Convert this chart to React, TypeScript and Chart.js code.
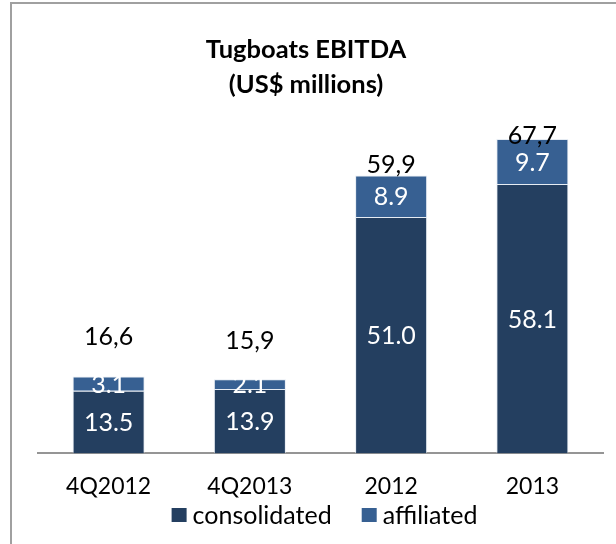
import React, { useEffect, useRef } from "react";
import { Chart, registerables } from "chart.js";

Chart.register(...registerables);

const categories = ["4Q2012", "4Q2013", "2012", "2013"];
const consolidated = [13.5, 13.9, 51.0, 58.1];
const affiliated = [3.1, 2.1, 8.9, 9.7];
const totals = [16.6, 15.9, 59.9, 67.7];
const seriesNames = ["consolidated", "affiliated"];
const titleLines = ["Tugboats EBITDA", "(US$ millions)"];

const FONT = "Lato, Carlito, Calibri, 'Open Sans', sans-serif";
const DARK = "#243F60";
const LIGHT = "#376092";

const labelsPlugin = {
  id: "barLabels",
  afterDatasetsDraw(chart: any, _args: any, opts: any) {
    const ctx = chart.ctx;
    ctx.save();
    ctx.textAlign = "center";
    ctx.textBaseline = "middle";
    ctx.font = `${opts.size}px ${FONT}`;
    chart.data.datasets.forEach((ds: any, di: number) => {
      const meta = chart.getDatasetMeta(di);
      meta.data.forEach((bar: any, i: number) => {
        const v = ds.data[i];
        ctx.fillStyle = "#ffffff";
        ctx.fillText(v.toFixed(1), bar.x, (bar.y + bar.base) / 2 + opts.dy);
      });
    });
    const topMeta = chart.getDatasetMeta(chart.data.datasets.length - 1);
    ctx.font = `${opts.totalSize}px ${FONT}`;
    ctx.fillStyle = "#000000";
    totals.forEach((t, i) => {
      const bar = topMeta.data[i];
      ctx.fillText(t.toFixed(1).replace(".", ","), bar.x, bar.y + opts.totalOffsets[i] + opts.dy);
    });
    ctx.restore();
  },
};

const titlePlugin = {
  id: "customTitle",
  afterDraw(chart: any, _args: any, opts: any) {
    const ctx = chart.ctx;
    ctx.save();
    ctx.font = `bold ${opts.size}px ${FONT}`;
    ctx.textAlign = "center";
    ctx.textBaseline = "middle";
    ctx.fillStyle = "#000";
    titleLines.forEach((line, i) => {
      ctx.fillText(line, opts.x, opts.y + i * opts.lineGap);
    });
    ctx.restore();
  },
};

const legendPlugin = {
  id: "customLegend",
  afterDraw(chart: any, _args: any, opts: any) {
    const ctx = chart.ctx;
    ctx.save();
    ctx.font = `${opts.size}px ${FONT}`;
    ctx.textBaseline = "middle";
    ctx.textAlign = "left";
    const items = chart.data.datasets.map((ds: any) => ({
      text: ds.label,
      color: ds.backgroundColor,
      w: ctx.measureText(ds.label).width,
    }));
    const total = items.reduce(
      (s: number, it: any, i: number) => s + opts.box + opts.gap + it.w + (i > 0 ? opts.spacing : 0),
      0
    );
    const ca = chart.chartArea;
    let x = (ca.left + ca.right) / 2 - total / 2 + opts.shift;
    const y = opts.y;
    items.forEach((it: any) => {
      ctx.fillStyle = it.color;
      ctx.fillRect(x, y - opts.boxH / 2, opts.box, opts.boxH);
      ctx.fillStyle = "#000";
      ctx.fillText(it.text, x + opts.box + opts.gap, y + 1);
      x += opts.box + opts.gap + it.w + opts.spacing;
    });
    ctx.restore();
  },
};

export default function App() {
  const ref = useRef<HTMLCanvasElement | null>(null);
  useEffect(() => {
    if (!ref.current) return;
    const chart = new Chart(ref.current, {
      type: "bar",
      data: {
        labels: categories,
        datasets: [
          {
            label: seriesNames[0],
            data: consolidated,
            backgroundColor: DARK,
            borderColor: "rgba(220,228,238,0.7)",
            borderWidth: 1,
            barPercentage: 0.51,
            categoryPercentage: 1,
          },
          {
            label: seriesNames[1],
            data: affiliated,
            backgroundColor: LIGHT,
            borderColor: "rgba(220,228,238,0.7)",
            borderWidth: 1,
            barPercentage: 0.51,
            categoryPercentage: 1,
          },
        ],
      },
      options: {
        responsive: false,
        animation: false,
        layout: { padding: { left: 38, right: 13, top: 105.6, bottom: 25 } },
        plugins: {
          title: { display: false },
          legend: { display: false },
          tooltip: { enabled: false },
          barLabels: { size: 25, totalSize: 25, dy: 1, totalOffsets: [-40, -39, -12, -4.5] },
          customTitle: { size: 25.5, x: 306, y: 50, lineGap: 34.8 },
          customLegend: { size: 25, box: 15, boxH: 14, gap: 6, spacing: 30, y: 515, shift: 4 },
        } as any,
        scales: {
          x: {
            stacked: true,
            grid: { display: false, drawTicks: false },
            border: { display: true, color: "#959595", width: 2 },
            ticks: { color: "#000", font: { family: FONT, size: 23 }, padding: 19 },
          },
          y: { stacked: true, display: false, min: 0, max: 75 },
        },
      },
      plugins: [labelsPlugin, titlePlugin, legendPlugin],
    });
    return () => chart.destroy();
  }, []);

  return (
    <div style={{ position: "fixed", left: 0, top: 0, width: 616, height: 544, background: "#fff" }}>
      <div
        style={{
          position: "absolute",
          left: 10,
          top: 2,
          width: 606,
          height: 542,
          borderLeft: "2px solid #a0a0a0",
          borderTop: "2px solid #a0a0a0",
          boxSizing: "border-box",
        }}
      />
      <canvas ref={ref} width={616} height={544} style={{ position: "absolute", left: 0, top: 0 }} />
    </div>
  );
}
